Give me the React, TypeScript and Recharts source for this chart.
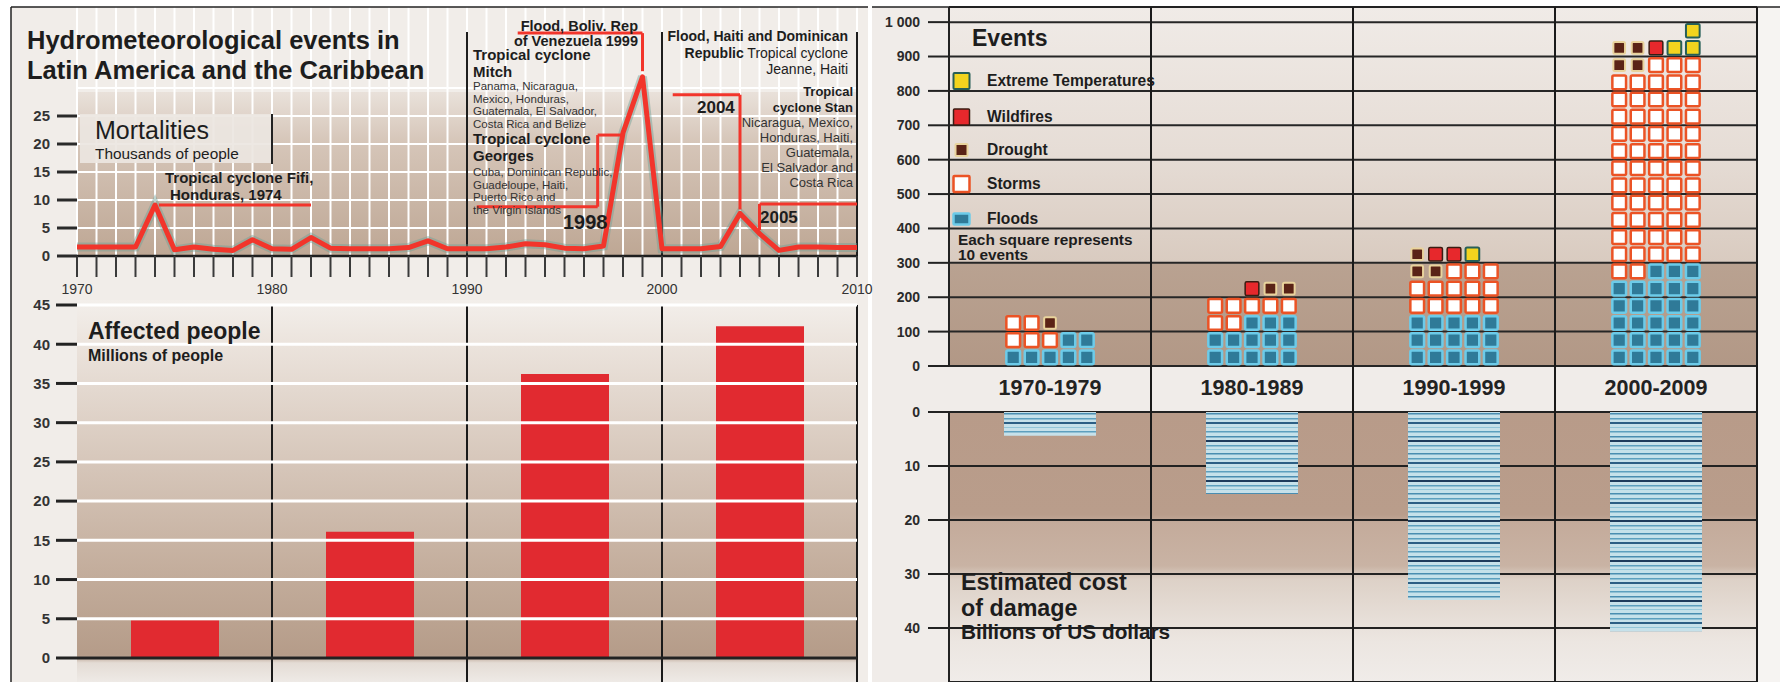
import React from "react";
import { Bar, BarChart, CartesianGrid, Line, LineChart, ReferenceLine, XAxis, YAxis } from "recharts";

const FONT = "'Liberation Sans', Arial, Helvetica, sans-serif";

const years = [
  1970, 1971, 1972, 1973, 1974, 1975, 1976, 1977, 1978, 1979,
  1980, 1981, 1982, 1983, 1984, 1985, 1986, 1987, 1988, 1989,
  1990, 1991, 1992, 1993, 1994, 1995, 1996, 1997, 1998, 1999,
  2000, 2001, 2002, 2003, 2004, 2005, 2006, 2007, 2008, 2009, 2010,
];
// thousands of deaths per year
const mortality = [
  1.6, 1.6, 1.6, 1.6, 9.1, 1.1, 1.6, 1.2, 1.0, 2.9,
  1.3, 1.2, 3.3, 1.4, 1.3, 1.3, 1.3, 1.5, 2.7, 1.3,
  1.3, 1.3, 1.6, 2.2, 2.0, 1.4, 1.3, 1.8, 22, 32,
  1.3, 1.3, 1.3, 1.7, 7.6, 4.0, 1.0, 1.6, 1.6, 1.5, 1.5,
];
const mortalityTicks = [0, 5, 10, 15, 20, 25];
const mortalityGrid = [2.5, 5, 7.5, 10, 12.5, 15, 17.5, 20, 22.5, 25, 27.5, 30];

const decades = ["1970-1979", "1980-1989", "1990-1999", "2000-2009"];
const affected = [4.8, 16.1, 36.2, 42.3]; // millions
const affectedTicks = [0, 5, 10, 15, 20, 25, 30, 35, 40, 45];

const floods = [70, 130, 150, 280];
const storms = [50, 70, 130, 600];
const drought = [10, 20, 30, 40];
const wildfires = [0, 10, 20, 10];
const extremeTemps = [0, 0, 10, 30];
const eventTicks = [0, 100, 200, 300, 400, 500, 600, 700, 800, 900, 1000];

const damageCost = [4.4, 15.2, 34.8, 40.6]; // billions USD
const costTicks = [0, 10, 20, 30, 40];

const eventTypes = [
  { key: "floods", label: "Floods" },
  { key: "storms", label: "Storms" },
  { key: "drought", label: "Drought" },
  { key: "wildfires", label: "Wildfires" },
  { key: "extremeTemps", label: "Extreme Temperatures" },
];

const squareLook: Record<string, { fill: string; stroke: string; sw: number; shrink: number }> = {
  floods: { fill: "#2f7a98", stroke: "#6ccbe9", sw: 2.5, shrink: 0 },
  storms: { fill: "#ffffff", stroke: "#eb5325", sw: 2.5, shrink: 0 },
  drought: { fill: "#5a2316", stroke: "#e9d39c", sw: 2, shrink: 1 },
  wildfires: { fill: "#e7282c", stroke: "#3a1c12", sw: 1.5, shrink: 0 },
  extremeTemps: { fill: "#f3d41e", stroke: "#275f57", sw: 2, shrink: 0 },
};

const EVENTS_PER_SQUARE = 10;
const SQUARES_PER_ROW = 5;
// the waffle snakes row by row; 1980s starts from the right
const firstRowReversed = [false, true, false, false];

const RED = "#f2352b";

function WaffleShape(props: any) {
  const { x, y, width, height, payload } = props;
  if (!payload || !payload.total || !height) return <g />;
  const idx = decades.indexOf(payload.decade);
  const rowH = (height / payload.total) * EVENTS_PER_SQUARE * SQUARES_PER_ROW;
  const colW = width / SQUARES_PER_ROW;
  const cells: string[] = [];
  eventTypes.forEach((t) => {
    const n = Math.round(payload[t.key] / EVENTS_PER_SQUARE);
    for (let k = 0; k < n; k++) cells.push(t.key);
  });
  const base = Math.min(rowH, colW) - 3.5;
  return (
    <g>
      {cells.map((key, i) => {
        const row = Math.floor(i / SQUARES_PER_ROW);
        const pos = i % SQUARES_PER_ROW;
        const ltr = (row + (firstRowReversed[idx] ? 1 : 0)) % 2 === 0;
        const col = ltr ? pos : SQUARES_PER_ROW - 1 - pos;
        const look = squareLook[key];
        const s = base - look.shrink * 2;
        const cx = x + (col + 0.5) * colW;
        const cy = y + height - (row + 0.5) * rowH;
        return (
          <rect key={i} x={cx - s / 2} y={cy - s / 2} width={s} height={s} rx={1.5}
            fill={look.fill} stroke={look.stroke} strokeWidth={look.sw} />
        );
      })}
    </g>
  );
}

function YearTick({ x, y, payload }: any) {
  if (payload.value % 10 !== 0) return <g />;
  return (
    <text x={x} y={y} dy={15} textAnchor="middle" fontSize={14} fill="#333" fontFamily={FONT}>
      {payload.value}
    </text>
  );
}

function DecadeTick({ x, y, payload }: any) {
  return (
    <text x={x} y={y} dy={29} textAnchor="middle" fontSize={21.5} fontWeight={700} fill="#222" fontFamily={FONT}>
      {payload.value}
    </text>
  );
}

function T({ x, y, size, bold, anchor, fill, children }: any) {
  return (
    <text x={x} y={y} fontSize={size} fontWeight={bold ? 700 : 400} textAnchor={anchor || "start"}
      fill={fill || "#1d1d1d"} fontFamily={FONT}>
      {children}
    </text>
  );
}

const axisTick = { fontSize: 15, fontWeight: 700, fill: "#333", fontFamily: FONT };
const rightTick = { fontSize: 14, fontWeight: 700, fill: "#2a2a2a", fontFamily: FONT };

export default function App() {
  const lineData = years.map((year, i) => ({ year, deaths: mortality[i] }));
  const decadeData = decades.map((decade, i) => ({
    decade,
    affected: affected[i],
    floods: floods[i],
    storms: storms[i],
    drought: drought[i],
    wildfires: wildfires[i],
    extremeTemps: extremeTemps[i],
    total: floods[i] + storms[i] + drought[i] + wildfires[i] + extremeTemps[i],
    cost: damageCost[i],
  }));

  const quarterLines = ({ offset }: any) => [1, 2, 3, 4].map((i) => offset.left + (offset.width * i) / 4);

  const mitch = ["Panama, Nicaragua,", "Mexico, Honduras,", "Guatemala, El Salvador,", "Costa Rica and Belize"];
  const georges = ["Cuba, Dominican Republic,", "Guadeloupe, Haiti,", "Puerto Rico and", " the Virgin Islands"];
  const stan = ["Nicaragua, Mexico,", "Honduras, Haiti,", "Guatemala,", "El Salvador and", "Costa Rica"];

  return (
    <div style={{ position: "absolute", left: 0, top: 0, width: 1785, height: 682, background: "#ffffff", overflow: "hidden", fontFamily: FONT }}>
      {/* panel backgrounds */}
      <div style={{ position: "absolute", left: 11, top: 7, width: 857, height: 675, background: "#f1ede9" }} />
      <div style={{ position: "absolute", left: 77, top: 92, width: 780, height: 164, background: "linear-gradient(to bottom, #e9e1da 0%, #d6c6b9 30%, #c8b4a4 70%, #bea794 100%)" }} />
      <div style={{ position: "absolute", left: 77, top: 300, width: 780, height: 382, background: "linear-gradient(to bottom, #f3efeb 0%, #ebe3dc 12%, #d8c9bd 40%, #c4ae9d 70%, #b59c89 93%, #e4dcd5 95%, #eeeae6 100%)" }} />
      <div style={{ position: "absolute", left: 872, top: 7, width: 908, height: 675, background: "#f0ece9" }} />
      <div style={{ position: "absolute", left: 949, top: 7, width: 808, height: 359, background: "linear-gradient(to bottom, #f0ebe7 0%, #e6ddd6 40%, #d9cbc0 71%, #b9a291 71.5%, #b29886 100%)" }} />
      <div style={{ position: "absolute", left: 949, top: 412, width: 808, height: 270, background: "linear-gradient(to bottom, #b89b89 0%, #b99d8b 38%, #c4ab9b 41%, #c9b3a4 57%, #ddd1c7 62%, #ece6e1 85%, #f0ece9 100%)" }} />
      <div style={{ position: "absolute", left: 1758, top: 7, width: 22, height: 675, background: "#f6f4f2" }} />

      {/* mortality line chart */}
      <div style={{ position: "absolute", left: 0, top: 0 }}>
        <LineChart width={890} height={300} data={lineData} margin={{ top: 4, right: 33, left: 20, bottom: 0 }}>
          <CartesianGrid stroke="#ffffff" strokeWidth={2} horizontalValues={mortalityGrid} />
          <XAxis type="number" dataKey="year" domain={[1970, 2010]} ticks={years} interval={0} height={44}
            tickSize={21} tickLine={{ stroke: "#3a3a3a", strokeWidth: 2 }}
            axisLine={{ stroke: "#1e1e1e", strokeWidth: 2.5 }} tick={<YearTick />} />
          <YAxis domain={[0, 45]} ticks={mortalityTicks} width={57} tickSize={20} tickMargin={7}
            axisLine={false} tickLine={{ stroke: "#2a2a2a", strokeWidth: 3 }} tick={axisTick} />
          {[1990, 2000, 2010].map((d) => (
            <ReferenceLine key={d} segment={[{ x: d, y: 0 }, { x: d, y: 40 }]} stroke="#1e1e1e" strokeWidth={2} ifOverflow="visible" />
          ))}
          <Line dataKey="deaths" type="linear" stroke="rgba(110,160,150,0.45)" strokeWidth={9} dot={false} isAnimationActive={false} />
          <Line dataKey="deaths" type="linear" stroke={RED} strokeWidth={5} strokeLinejoin="round" dot={false} isAnimationActive={false} />
          {/* annotation leaders */}
          <ReferenceLine segment={[{ x: 1974.2, y: 9.1 }, { x: 1982, y: 9.1 }]} stroke={RED} strokeWidth={3} ifOverflow="visible" />
          <ReferenceLine segment={[{ x: 1992.6, y: 39.8 }, { x: 1999, y: 39.8 }]} stroke={RED} strokeWidth={3} ifOverflow="visible" />
          <ReferenceLine segment={[{ x: 1999, y: 39.8 }, { x: 1999, y: 33 }]} stroke={RED} strokeWidth={3} ifOverflow="visible" />
          <ReferenceLine segment={[{ x: 1990.5, y: 8.8 }, { x: 1996.7, y: 8.8 }]} stroke={RED} strokeWidth={3} ifOverflow="visible" />
          <ReferenceLine segment={[{ x: 1996.7, y: 8.8 }, { x: 1996.7, y: 21.6 }]} stroke={RED} strokeWidth={3} ifOverflow="visible" />
          <ReferenceLine segment={[{ x: 1996.7, y: 21.6 }, { x: 1998, y: 21.6 }]} stroke={RED} strokeWidth={3} ifOverflow="visible" />
          <ReferenceLine segment={[{ x: 2000.55, y: 28.8 }, { x: 2004, y: 28.8 }]} stroke={RED} strokeWidth={3} ifOverflow="visible" />
          <ReferenceLine segment={[{ x: 2004, y: 28.8 }, { x: 2004, y: 8.3 }]} stroke={RED} strokeWidth={3} ifOverflow="visible" />
          <ReferenceLine segment={[{ x: 2005, y: 4.6 }, { x: 2005, y: 9.3 }]} stroke={RED} strokeWidth={3} ifOverflow="visible" />
          <ReferenceLine segment={[{ x: 2005, y: 9.3 }, { x: 2010, y: 9.3 }]} stroke={RED} strokeWidth={3} ifOverflow="visible" />
        </LineChart>
      </div>

      {/* affected people bars */}
      <div style={{ position: "absolute", left: 0, top: 290 }}>
        <BarChart width={870} height={392} data={decadeData} margin={{ top: 15, right: 13, left: 20, bottom: 0 }}>
          <CartesianGrid horizontal={false} stroke="#1a1a1a" strokeWidth={2} verticalCoordinatesGenerator={quarterLines} />
          <XAxis dataKey="decade" hide />
          <YAxis domain={[-3.06, 45]} ticks={affectedTicks} width={57} tickSize={21} tickMargin={6}
            axisLine={false} tickLine={{ stroke: "#222", strokeWidth: 3 }} tick={axisTick} />
          <Bar dataKey="affected" fill="#e12a30" barSize={88} isAnimationActive={false} />
          {affectedTicks.filter((v) => v > 0).map((v) => (
            <ReferenceLine key={v} y={v} stroke="#ffffff" strokeWidth={3} />
          ))}
          <ReferenceLine y={0} stroke="#222" strokeWidth={3} />
        </BarChart>
      </div>

      {/* events waffle */}
      <div style={{ position: "absolute", left: 870, top: 0 }}>
        <BarChart width={900} height={412} data={decadeData} margin={{ top: 7, right: 13, left: 34, bottom: 0 }}>
          <CartesianGrid vertical={false} stroke="#262626" strokeWidth={2} />
          <XAxis dataKey="decade" height={46} interval={0} tickLine={false} axisLine={false} tickSize={0} tickMargin={0} tick={<DecadeTick />} />
          <YAxis domain={[0, 1044]} ticks={eventTicks} width={45} tickSize={21} tickMargin={8}
            tickFormatter={(v: number) => (v === 1000 ? "1 000" : String(v))}
            axisLine={{ stroke: "#222", strokeWidth: 2 }} tickLine={{ stroke: "#222", strokeWidth: 2 }} tick={rightTick} />
          <Bar dataKey="total" barSize={92} isAnimationActive={false} shape={(p: any) => <WaffleShape {...p} />} />
        </BarChart>
      </div>

      {/* damage cost */}
      <div style={{ position: "absolute", left: 870, top: 400 }}>
        <BarChart width={900} height={282} data={decadeData} margin={{ top: 12, right: 13, left: 34, bottom: 0 }}>
          <defs>
            <pattern id="costStripes" patternUnits="userSpaceOnUse" width={8} height={40}>
              <rect width={8} height={40} fill="#c6e1ea" />
              <rect y={0} width={8} height={2} fill="#1d3b5c" />
              <rect y={5} width={8} height={1.5} fill="#5d9fbe" />
              <rect y={9} width={8} height={1} fill="#93c6d9" />
              <rect y={13} width={8} height={1.5} fill="#4a8db0" />
              <rect y={18} width={8} height={1.5} fill="#5d9fbe" />
              <rect y={22} width={8} height={2} fill="#2c5f85" />
              <rect y={27} width={8} height={1} fill="#93c6d9" />
              <rect y={31} width={8} height={1.5} fill="#5d9fbe" />
              <rect y={36} width={8} height={1.5} fill="#4a8db0" />
            </pattern>
          </defs>
          <CartesianGrid vertical={false} stroke="#222" strokeWidth={2} />
          <XAxis dataKey="decade" hide />
          <YAxis reversed domain={[0, 50]} ticks={costTicks} width={45} tickSize={21} tickMargin={8}
            axisLine={{ stroke: "#222", strokeWidth: 2 }} tickLine={{ stroke: "#222", strokeWidth: 2 }} tick={rightTick} />
          <Bar dataKey="cost" fill="url(#costStripes)" barSize={92} isAnimationActive={false} />
        </BarChart>
      </div>

      {/* frame and text overlay */}
      <svg width={1785} height={682} style={{ position: "absolute", left: 0, top: 0, pointerEvents: "none" }}>
        <line x1={11} y1={7} x2={868} y2={7} stroke="#222" strokeWidth={1.5} />
        <line x1={11} y1={7} x2={11} y2={682} stroke="#222" strokeWidth={1.5} />
        <line x1={872} y1={7} x2={1780} y2={7} stroke="#222" strokeWidth={1.5} />
        {[1151, 1353, 1555, 1757].map((x) => (
          <line key={x} x1={x} y1={7} x2={x} y2={682} stroke="#1a1a1a" strokeWidth={2} />
        ))}

        <T x={27} y={49} size={25.5} bold>Hydrometeorological events in</T>
        <T x={27} y={79} size={25.5} bold>Latin America and the Caribbean</T>

        <rect x={80} y={114} width={192} height={49} fill="#ece6e1" opacity={0.92} />
        <line x1={272} y1={114} x2={272} y2={164} stroke="#222" strokeWidth={2} />
        <T x={95} y={139} size={25}>Mortalities</T>
        <T x={95} y={159} size={15.4}>Thousands of people</T>

        <T x={165} y={183} size={15} bold>Tropical cyclone Fifi,</T>
        <T x={170} y={200} size={15} bold>Honduras, 1974</T>

        <T x={638} y={31} size={14.5} bold anchor="end">Flood, Boliv. Rep</T>
        <T x={638} y={46} size={14.5} bold anchor="end">of Venezuela 1999</T>

        <T x={473} y={60} size={15} bold>Tropical cyclone</T>
        <T x={473} y={77} size={15} bold>Mitch</T>
        {mitch.map((s, i) => (
          <T key={s} x={473} y={90 + i * 12.7} size={11.5} fill="#333">{s}</T>
        ))}
        <T x={473} y={144} size={15} bold>Tropical cyclone</T>
        <T x={473} y={161} size={15} bold>Georges</T>
        {georges.map((s, i) => (
          <T key={s} x={473} y={176 + i * 12.7} size={11.5} fill="#333">{s}</T>
        ))}
        <T x={563} y={229} size={20} bold>1998</T>

        <T x={848} y={41} size={14} bold anchor="end">Flood, Haiti and Dominican</T>
        <text x={848} y={58} fontSize={14} textAnchor="end" fill="#1d1d1d" fontFamily={FONT}>
          <tspan fontWeight={700}>Republic</tspan>{" Tropical cyclone"}
        </text>
        <T x={848} y={74} size={14} anchor="end">Jeanne, Haiti</T>
        <T x={697} y={113} size={17} bold>2004</T>
        <T x={853} y={96} size={13} bold anchor="end">Tropical</T>
        <T x={853} y={112} size={13} bold anchor="end">cyclone Stan</T>
        {stan.map((s, i) => (
          <T key={s} x={853} y={127 + i * 15} size={13} anchor="end" fill="#333">{s}</T>
        ))}
        <T x={760} y={223} size={17} bold>2005</T>

        <T x={88} y={339} size={23} bold>Affected people</T>
        <T x={88} y={361} size={16} bold>Millions of people</T>

        <T x={972} y={46} size={23} bold>Events</T>
        {eventTypes.slice().reverse().map((t, i) => {
          const look = squareLook[t.key];
          const cy = [81, 117, 150, 184, 219][i];
          const w = t.key === "drought" ? 12 : 16;
          const h = t.key === "floods" ? 11 : w;
          return (
            <g key={t.key}>
              <rect x={961.5 - w / 2} y={cy - h / 2} width={w} height={h} rx={1}
                fill={look.fill} stroke={look.stroke} strokeWidth={look.sw} />
              <T x={987} y={cy + 5} size={15.6} bold>{t.label}</T>
            </g>
          );
        })}
        <T x={958} y={245} size={15.4} bold>Each square represents</T>
        <T x={958} y={260} size={15.4} bold>10 events</T>

        <T x={961} y={590} size={23.3} bold>Estimated cost</T>
        <T x={961} y={616} size={23.3} bold>of damage</T>
        <T x={961} y={639} size={20.8} bold>Billions of US dollars</T>
      </svg>
    </div>
  );
}
